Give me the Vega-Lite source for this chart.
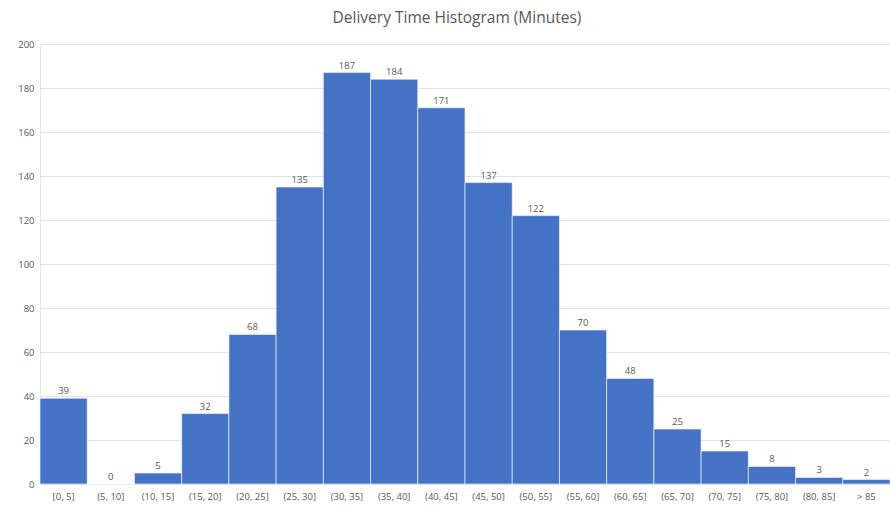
{
  "$schema": "https://vega.github.io/schema/vega-lite/v6.json",
  "width": 850,
  "height": 440,
  "autosize": "none",
  "padding": {"left": 40, "top": 44, "right": 0, "bottom": 23},
  "background": "white",
  "title": {
    "text": "Delivery Time Histogram (Minutes)",
    "font": "Open Sans",
    "fontSize": 15.5,
    "fontWeight": "normal",
    "color": "#595959",
    "anchor": "middle",
    "offset": 13,
    "dx": -8
  },
  "config": {"view": {"stroke": null}},
  "data": {
    "values": [
      {"bin": "[0, 5]", "count": 39},
      {"bin": "(5, 10]", "count": 0},
      {"bin": "(10, 15]", "count": 5},
      {"bin": "(15, 20]", "count": 32},
      {"bin": "(20, 25]", "count": 68},
      {"bin": "(25, 30]", "count": 135},
      {"bin": "(30, 35]", "count": 187},
      {"bin": "(35, 40]", "count": 184},
      {"bin": "(40, 45]", "count": 171},
      {"bin": "(45, 50]", "count": 137},
      {"bin": "(50, 55]", "count": 122},
      {"bin": "(55, 60]", "count": 70},
      {"bin": "(60, 65]", "count": 48},
      {"bin": "(65, 70]", "count": 25},
      {"bin": "(70, 75]", "count": 15},
      {"bin": "(75, 80]", "count": 8},
      {"bin": "(80, 85]", "count": 3},
      {"bin": "> 85", "count": 2}
    ]
  },
  "encoding": {
    "x": {
      "field": "bin",
      "type": "nominal",
      "sort": null,
      "scale": {"paddingInner": 0, "paddingOuter": 0},
      "axis": {
        "title": null,
        "labelAngle": 0,
        "labelFont": "Open Sans",
        "labelFontSize": 9.5,
        "labelColor": "#595959",
        "labelPadding": 7,
        "ticks": false,
        "domainColor": "#D9D9D9",
        "domainWidth": 1
      }
    },
    "y": {
      "field": "count",
      "type": "quantitative",
      "scale": {"domain": [0, 200], "nice": false},
      "axis": {
        "title": null,
        "values": [0, 20, 40, 60, 80, 100, 120, 140, 160, 180, 200],
        "labelFont": "Open Sans",
        "labelFontSize": 9.5,
        "labelColor": "#595959",
        "labelPadding": 6,
        "ticks": false,
        "domain": true,
        "domainColor": "#E6E6E6",
        "gridColor": "#E3E3E3",
        "gridWidth": 1
      }
    }
  },
  "layer": [
    {
      "mark": {"type": "bar", "color": "#4472C4", "stroke": "#FFFFFF", "strokeWidth": 0.6}
    },
    {
      "mark": {"type": "text", "dy": -7, "font": "Open Sans", "fontSize": 9.5, "color": "#595959"},
      "encoding": {"text": {"field": "count", "type": "quantitative"}}
    }
  ]
}
